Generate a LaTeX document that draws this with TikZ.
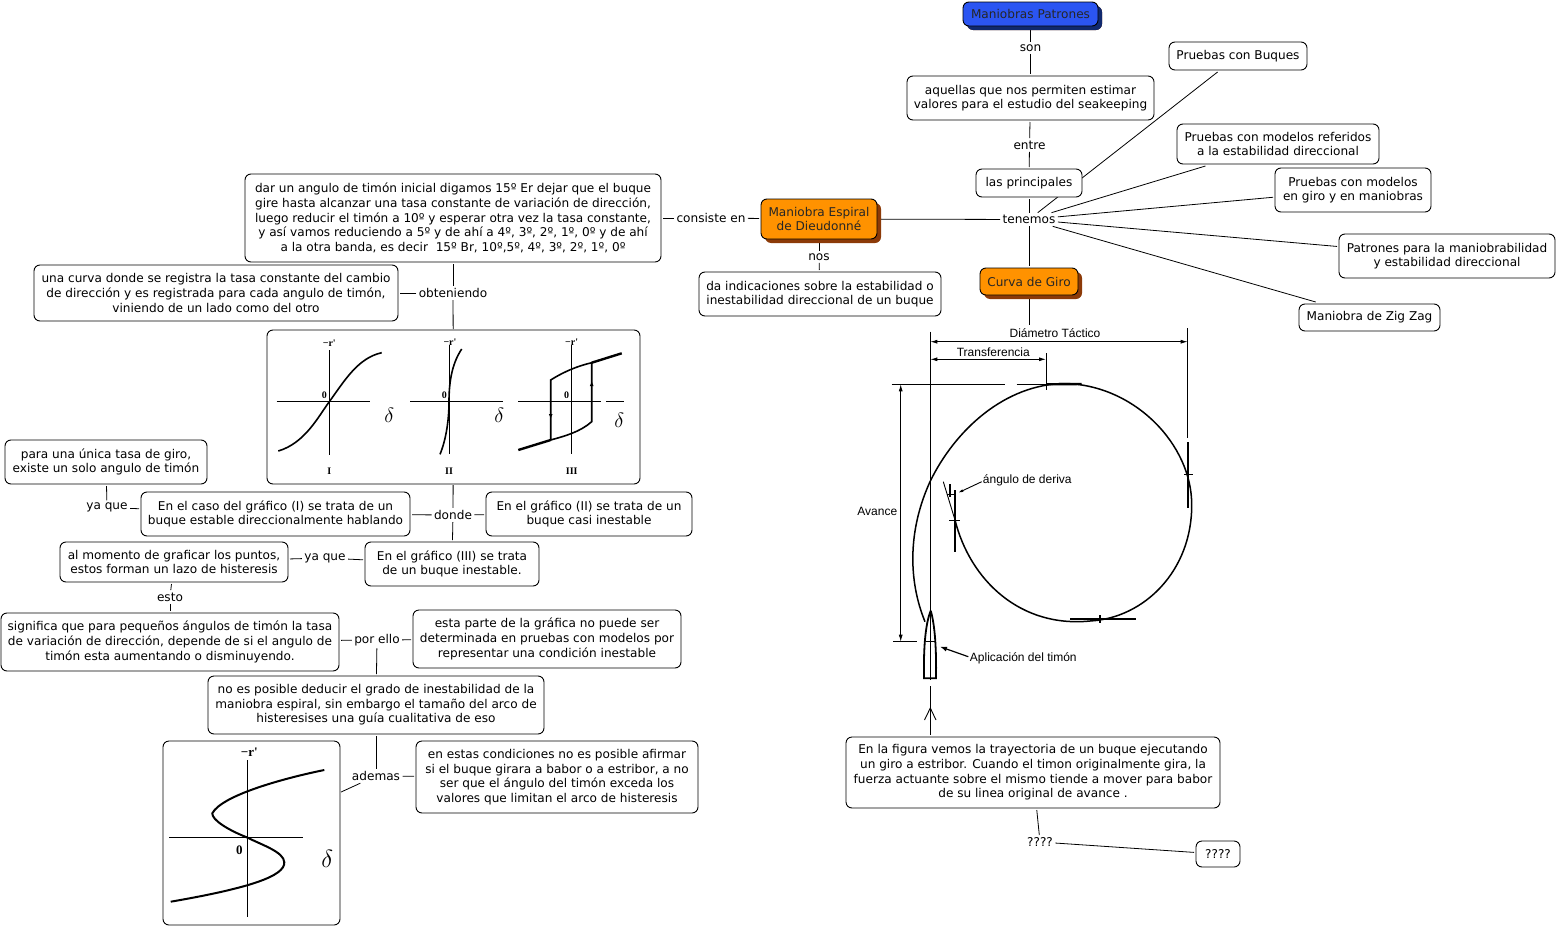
\documentclass[tikz,border=0pt]{standalone}
\usepackage{fontspec}
\setmainfont{DejaVu Sans}
\newfontfamily\figfont{Liberation Sans}
\newfontfamily\plotfont{Liberation Serif}
\usetikzlibrary{positioning,arrows.meta,calc,shadows,backgrounds}
\definecolor{cBlue}{HTML}{2B55F2}
\definecolor{cNavy}{HTML}{10296E}
\definecolor{cOrange}{HTML}{FF9200}
\definecolor{cBrown}{HTML}{8C3A08}
\newcommand{\rprime}[1]{\node[plotlabel] at (#1) {\textbf{−r'}};}

\begin{document}
\begin{tikzpicture}[x=1pt,y=-1pt,
    every node/.style={font=\fontsize{12.1}{14.6}\selectfont},
    concept/.style={draw=black,line width=0.9pt,fill=white,rounded corners=6pt,align=center,inner sep=0pt,outer sep=2pt},
    topic/.style={concept,text=black!85,general shadow={fill=cBrown,shadow xshift=4pt,shadow yshift=-4pt},fill=cOrange},
    maintopic/.style={topic,general shadow={fill=cNavy,shadow xshift=4pt,shadow yshift=-4pt},fill=cBlue},
    linklabel/.style={inner sep=1.5pt,outer sep=1pt},
    picbox/.style={concept,outer sep=1pt},
    link/.style={draw=black,line width=0.8pt},
    curve/.style={line width=1.6pt},
    axis/.style={line width=1pt},
    heavy/.style={line width=2.4pt},
    figline/.style={line width=0.9pt},
    figtext/.style={font=\figfont\fontsize{12}{14}\selectfont,inner sep=0pt},
    plotlabel/.style={font=\plotfont\fontsize{10}{11}\selectfont,inner sep=0pt},
    biglabel/.style={font=\plotfont\fontsize{13}{14}\selectfont,inner sep=0pt},
    dim/.style={figline,{Latex[length=7pt,width=4pt]}-{Latex[length=7pt,width=4pt]}}]
  \useasboundingbox (0,0) rectangle (1556,926);

  % right side
  \node[maintopic,minimum width=135pt,minimum height=24pt] (patrones) at (1030.5,14) {Maniobras Patrones};
  \node[linklabel] (son) at (1030.5,48) {son};
  \node[concept,minimum width=247pt,minimum height=44pt] (valores) at (1030.5,98) {aquellas que nos permiten estimar\\valores para el estudio del seakeeping};
  \node[linklabel] (entre) at (1029.5,145) {entre};
  \node[concept,minimum width=106pt,minimum height=28pt] (principales) at (1029,183) {las principales};
  \node[linklabel] (tenemos) at (1029,219.5) {tenemos};
  \node[concept,minimum width=138pt,minimum height=28pt] (buques) at (1238,56) {Pruebas con Buques};
  \node[concept,minimum width=202pt,minimum height=40pt] (referidos) at (1278,144) {Pruebas con modelos referidos\\a la estabilidad direccional};
  \node[concept,minimum width=156pt,minimum height=44pt] (engiro) at (1353,190) {Pruebas con modelos\\en giro y en maniobras};
  \node[concept,minimum width=216pt,minimum height=44pt] (maniobrabilidad) at (1447,256) {Patrones para la maniobrabilidad\\y estabilidad direccional};
  \node[concept,minimum width=141pt,minimum height=27pt] (zigzag) at (1369.5,317.5) {Maniobra de Zig Zag};
  \node[topic,minimum width=98pt,minimum height=27pt] (giro) at (1029,281.5) {Curva de Giro};
  \node[fill=white,inner sep=0pt,minimum width=344pt,minimum height=410pt] (trayectoria) at (1029,530) {};
  \node[concept,minimum width=374pt,minimum height=71pt] (figura) at (1033,772.5) {En la figura vemos la trayectoria de un buque ejecutando\\un giro a estribor. Cuando el timon originalmente gira, la\\fuerza actuante sobre el mismo tiende a mover para babor\\de su linea original de avance .};
  \node[linklabel] (dudas) at (1040,842) {????};
  \node[concept,minimum width=44pt,minimum height=26pt] (pendiente) at (1218,854) {????};

  % left side
  \node[topic,minimum width=116pt,minimum height=40pt] (espiral) at (819,219) {Maniobra Espiral\\de Dieudonné};
  \node[linklabel] (nos) at (819,257) {nos};
  \node[concept,minimum width=242pt,minimum height=44pt] (indicaciones) at (820,294) {da indicaciones sobre la estabilidad o\\inestabilidad direccional de un buque};
  \node[linklabel] (consiste) at (711,218) {consiste en};
  \node[concept,minimum width=416pt,minimum height=88pt] (timon) at (453,218) {dar un angulo de timón inicial digamos 15º Er dejar que el buque\\gire hasta alcanzar una tasa constante de variación de dirección,\\luego reducir el timón a 10º y esperar otra vez la tasa constante,\\y así vamos reduciendo a 5º y de ahí a 4º, 3º, 2º, 1º, 0º y de ahí\\a la otra banda, es decir\ \ 15º Br, 10º,5º, 4º, 3º, 2º, 1º, 0º};
  \node[linklabel] (obteniendo) at (453,293) {obteniendo};
  \node[concept,minimum width=364pt,minimum height=56pt] (registro) at (216,293) {una curva donde se registra la tasa constante del cambio\\de dirección y es registrada para cada angulo de timón,\\viniendo de un lado como del otro};
  \node[picbox,minimum width=373pt,minimum height=154pt] (graficos) at (453.5,407) {};
  \node[linklabel] (donde) at (453,515) {donde};
  \node[concept,minimum width=269pt,minimum height=44pt] (estable) at (275.5,514) {En el caso del gráfico (I) se trata de un\\buque estable direccionalmente hablando};
  \node[concept,minimum width=206pt,minimum height=44pt] (casi) at (589,514) {En el gráfico (II) se trata de un\\buque casi inestable};
  \node[concept,minimum width=174pt,minimum height=44pt] (inestable) at (452,564) {En el gráfico (III) se trata\\de un buque inestable.};
  \node[linklabel] (yaque) at (107,507.5) {ya que};
  \node[concept,minimum width=202pt,minimum height=44pt] (unica) at (106,462) {para una única tasa de giro,\\existe un solo angulo de timón};
  \node[linklabel] (yaquedos) at (325,558) {ya que};
  \node[concept,minimum width=228pt,minimum height=40pt] (lazo) at (174,562) {al momento de graficar los puntos,\\estos forman un lazo de histeresis};
  \node[linklabel] (esto) at (170,597) {esto};
  \node[concept,minimum width=338pt,minimum height=58pt] (significa) at (170,642) {significa que para pequeños ángulos de timón la tasa\\de variación de dirección, depende de si el angulo de\\timón esta aumentando o disminuyendo.};
  \node[linklabel] (porello) at (377,640) {por ello};
  \node[concept,minimum width=268pt,minimum height=58pt] (parte) at (547,639) {esta parte de la gráfica no puede ser\\determinada en pruebas con modelos por\\representar una condición inestable};
  \node[concept,minimum width=336pt,minimum height=58pt] (deducir) at (376,705) {no es posible deducir el grado de inestabilidad de la\\maniobra espiral, sin embargo el tamaño del arco de\\histeresises una guía cualitativa de eso};
  \node[linklabel] (ademas) at (376,776) {ademas};
  \node[picbox,minimum width=177pt,minimum height=184pt] (arco) at (251.5,833) {};
  \node[concept,minimum width=282pt,minimum height=72pt] (afirmar) at (557,777) {en estas condiciones no es posible afirmar\\si el buque girara a babor o a estribor, a no\\ser que el ángulo del timón exceda los\\valores que limitan el arco de histeresis};

  % connectors run under the boxes
  \begin{scope}[on background layer]
    \draw[link] (patrones) -- (son);
    \draw[link] (son) -- (valores);
    \draw[link] (valores) -- (entre);
    \draw[link] (entre) -- (principales);
    \draw[link] (principales) -- (tenemos);
    \draw[link] (tenemos) -- (buques);
    \draw[link] (tenemos) -- (referidos);
    \draw[link] (tenemos) -- (engiro);
    \draw[link] (tenemos) -- (maniobrabilidad);
    \draw[link] (tenemos) -- (zigzag);
    \draw[link] (tenemos) -- (giro);
    \draw[link] (tenemos) -- (espiral);
    \draw[link] (giro) -- (trayectoria);
    \draw[link] (figura) -- (dudas);
    \draw[link] (dudas) -- (pendiente);
    \draw[link] (espiral) -- (nos);
    \draw[link] (nos) -- (indicaciones);
    \draw[link] (espiral) -- (consiste);
    \draw[link] (consiste) -- (timon);
    \draw[link] (timon) -- (obteniendo);
    \draw[link] (obteniendo) -- (registro);
    \draw[link] (obteniendo) -- (graficos);
    \draw[link] (graficos) -- (donde);
    \draw[link] (donde) -- (estable);
    \draw[link] (donde) -- (casi);
    \draw[link] (donde) -- (inestable);
    \draw[link] (estable) -- (yaque);
    \draw[link] (yaque) -- (unica);
    \draw[link] (inestable) -- (yaquedos);
    \draw[link] (yaquedos) -- (lazo);
    \draw[link] (lazo) -- (esto);
    \draw[link] (esto) -- (significa);
    \draw[link] (significa) -- (porello);
    \draw[link] (porello) -- (parte);
    \draw[link] (porello) -- (deducir);
    \draw[link] (deducir) -- (ademas);
    \draw[link] (ademas) -- (arco);
    \draw[link] (ademas) -- (afirmar);
  \end{scope}

  % graph I
  \draw[axis] (329.3,350) -- (329.3,455);
  \draw[axis] (276.7,401.7) -- (370,401.7);
  \draw[curve] (278.3,451) .. controls (305,443) and (318,417) .. (329.3,401.7) .. controls (345,380) and (358,358) .. (381.7,352.7);
  \rprime{329.3,343}
  \node[plotlabel] at (324.3,395.7) {\textbf{0}};
  \node[plotlabel] at (329.3,471) {\textbf{I}};
  \node[inner sep=0pt] at (389.3,415.7) {\huge$\delta$};
  % graph II
  \draw[axis] (449,345) -- (449,454);
  \draw[axis] (410,401.7) -- (503.3,401.7);
  \draw[curve] (440,454.3) .. controls (446,440) and (449,420) .. (449,401.7) .. controls (449,385) and (451,365) .. (461.7,349);
  \rprime{450,342}
  \node[plotlabel] at (444.3,395.7) {\textbf{0}};
  \node[plotlabel] at (449,471.7) {\textbf{II}};
  \node[inner sep=0pt] at (499.3,415) {\huge$\delta$};
  % graph III
  \draw[axis] (571,345) -- (571,454);
  \draw[axis] (518.3,401.7) -- (600.7,401.7);
  \draw[axis] (606,401.7) -- (624,401.7);
  \draw[curve] (550.7,440) -- (550.7,380) .. controls (565,371) and (578,366) .. (591.7,362.7) -- (591.7,421.7) .. controls (580,432) and (565,436) .. (550.7,440);
  \draw[heavy] (591.7,362.7) -- (621.7,353.3);
  \draw[heavy] (550.7,440) -- (518.3,450);
  \draw[-{Latex[length=5pt,width=4pt]},line width=0.9pt] (550.7,405) -- (550.7,419);
  \draw[-{Latex[length=5pt,width=4pt]},line width=0.9pt] (591.7,395) -- (591.7,381);
  \rprime{571.7,342}
  \node[plotlabel] at (566.7,395) {\textbf{0}};
  \node[plotlabel] at (571.7,471.7) {\textbf{III}};
  \node[inner sep=0pt] at (619.3,420) {\huge$\delta$};

  % s curve
  \draw[axis] (247.7,760) -- (247.7,916.7);
  \draw[axis] (169,837.7) -- (302.7,837.7);
  \draw[line width=2pt] (324.3,770) .. controls (285,778) and (222,795) .. (212.3,813.3) .. controls (212,820) and (228,830) .. (247.7,837.7) .. controls (262,845) and (284,852) .. (284.3,862.3) .. controls (285,876) and (250,888) .. (170.7,901.7);
  \node[biglabel] at (249.3,752) {\textbf{−r'}};
  \node[biglabel] at (239.3,850) {\textbf{0}};
  \node[inner sep=0pt] at (327.3,859) {\Huge$\delta$};

  % turning circle
  \draw[figline] (930.3,331.7) -- (930.3,680);
  \draw[figline] (930.3,686) -- (930.3,735);
  \draw[figline] (924.5,720) -- (930.3,708) -- (936,720);
  \draw[figline] (1187.7,328) -- (1187.7,438);
  \draw[figline] (1046,353.3) -- (1046,390);
  \draw[dim] (930.3,341.7) -- (1187.7,341.7);
  \draw[dim] (930.3,359.3) -- (1046,359.3);
  \draw[figline] (891.7,384.3) -- (1005,384.3);
  \draw[figline] (1016.7,384.3) -- (1046.7,384.3);
  \draw[heavy] (1046.7,384.3) -- (1081.7,384);
  \draw[figline] (893.3,641.7) -- (916.7,641.7);
  \draw[dim] (900.7,384.3) -- (900.7,641.7);
  \draw[line width=1.5pt] (925,621.7) .. controls (908,580) and (908,530) .. (930,481.7) .. controls (955,430) and (1005,384) .. (1065,383.5) .. controls (1135,385) and (1192,445) .. (1191.7,505) .. controls (1192,570) and (1145,618) .. (1090,621) .. controls (1020,628) and (970,580) .. (955,520);
  \draw[line width=1.8pt] (1187.7,442.3) -- (1187.7,508.3);
  \draw[figline] (1184.3,474) -- (1192.7,474);
  \draw[line width=1.8pt] (1070,619.3) -- (1136,619.3);
  \draw[line width=1.4pt] (1100,615) -- (1100,623.3);
  \draw[line width=1.8pt] (955,490) -- (955,551.7);
  \draw[figline] (949.3,520.7) -- (960,520.7);
  \draw[figline] (943.3,481.7) -- (955,520);
  \draw[line width=1.4pt] (950,484) -- (950,497);
  \draw[figline] (947,494) -- (955,494);
  \draw[figline,-{Latex[length=5pt,width=3pt]}] (981.7,481.7) -- (958.3,492.7);
  \draw[line width=1.8pt] (930.7,610.7) .. controls (925,625) and (923.5,650) .. (924,678.3) -- (936,678.3) .. controls (936.5,650) and (935,625) .. (930.7,610.7);
  \draw[figline] (926,641.7) -- (935,641.7);
  \draw[line width=1.2pt,-{Latex[length=7pt,width=5pt]}] (968.3,656.7) -- (940,646.7);
  \node[figtext] at (1055,332.7) {Diámetro Táctico};
  \node[figtext] at (993.3,352.3) {Transferencia};
  \node[figtext] at (877.3,511.7) {Avance};
  \node[figtext] at (1027.3,480) {ángulo de deriva};
  \node[figtext] at (1023.3,658.3) {Aplicación del timón};
\end{tikzpicture}
\end{document}
